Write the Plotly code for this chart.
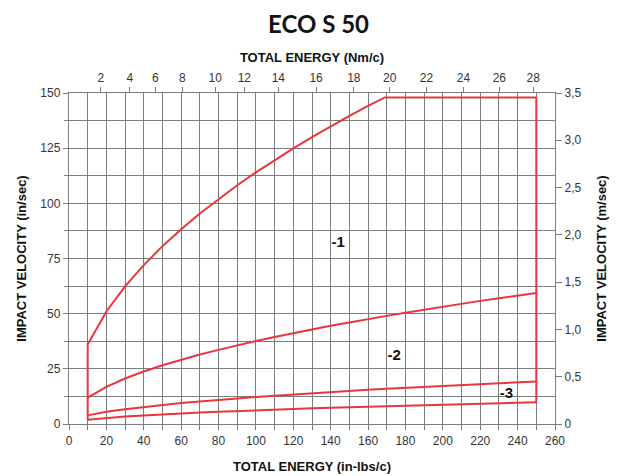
import plotly.graph_objects as go

# ---- data ----
energy_grid = [10, 20, 30, 40, 50, 60, 70, 80, 90, 100, 110, 120, 130, 140, 150, 160, 170,
               180, 190, 200, 210, 220, 230, 240, 250]

curve1_energy = [10, 20, 30, 40, 50, 60, 70, 80, 90, 100, 110, 120, 130, 140, 150, 160, 169, 250]
curve1_vel = [36, 51, 62.4, 72, 80.6, 88.3, 95.4, 102, 108.2, 114, 119.6, 124.9, 130, 134.9,
              139.6, 144.2, 148, 148]

curve2_vel = [11.9, 16.8, 20.6, 23.8, 26.6, 29.1, 31.5, 33.6, 35.7, 37.6, 39.4, 41.2, 42.9,
              44.5, 46.0, 47.6, 49.0, 50.4, 51.8, 53.2, 54.5, 55.8, 57.0, 58.2, 59.4]
curve3a_vel = [3.9, 5.5, 6.7, 7.7, 8.7, 9.5, 10.2, 11.0, 11.6, 12.2, 12.8, 13.4, 13.9, 14.5,
               15.0, 15.5, 16.0, 16.4, 16.9, 17.3, 17.7, 18.2, 18.6, 19.0, 19.3]
curve3b_vel = [1.9, 2.8, 3.4, 3.9, 4.4, 4.8, 5.2, 5.5, 5.9, 6.2, 6.5, 6.8, 7.1, 7.3, 7.6, 7.8,
               8.1, 8.3, 8.5, 8.8, 9.0, 9.2, 9.4, 9.6, 9.8]

left_edge_energy = [10, 10]
left_edge_vel = [1.9, 36]
right_edge_energy = [250, 250]
right_edge_vel = [9.8, 148]

curve_labels = ["-1", "-2", "-3"]
label_energy = [144, 174, 234]
label_vel = [82, 30.5, 13.7]

x_ticks = list(range(0, 261, 20))
y_ticks = [0, 25, 50, 75, 100, 125, 150]
nm_tick_text = ["2", "4", "6", "8", "10", "12", "14", "16", "18", "20", "22", "24", "26", "28"]
nm_tick_pos = [17.0, 32.6, 46.2, 60.7, 78.2, 93.8, 112, 132.2, 152.4, 171.6, 191.2, 211, 230.2, 248.3]
ms_tick_vals = [0, 0.5, 1.0, 1.5, 2.0, 2.5, 3.0, 3.5]
ms_tick_text = ["0", "0,5", "1,0", "1,5", "2,0", "2,5", "3,0", "3,5"]

RED = "#e8363c"
GRID = "#7c7c7c"
FONT = "Liberation Sans"

fig = go.Figure()

def red_line(x, y):
    fig.add_trace(go.Scatter(x=x, y=y, mode="lines", line=dict(color=RED, width=2),
                             hoverinfo="skip", showlegend=False))

red_line(curve1_energy, curve1_vel)
red_line(energy_grid, curve2_vel)
red_line(energy_grid, curve3a_vel)
red_line(energy_grid, curve3b_vel)
red_line(left_edge_energy, left_edge_vel)
red_line(right_edge_energy, right_edge_vel)

fig.add_trace(go.Scatter(x=label_energy, y=label_vel, mode="text", text=curve_labels,
                         textfont=dict(family=FONT, size=15, color="#111", weight="bold"),
                         showlegend=False, hoverinfo="skip"))

# invisible helpers so the secondary axes are drawn
fig.add_trace(go.Scatter(x=[0], y=[0], xaxis="x2", yaxis="y", mode="markers",
                         marker=dict(opacity=0), showlegend=False, hoverinfo="skip"))
fig.add_trace(go.Scatter(x=[0], y=[0], xaxis="x", yaxis="y2", mode="markers",
                         marker=dict(opacity=0), showlegend=False, hoverinfo="skip"))

tickfont = dict(family=FONT, size=12, color="#333")
titlefont = dict(family=FONT, size=13, color="#111", weight="bold")

# the page body adds an 8 px margin, so the figure is sized to fit the window
fig.update_layout(
    width=621, height=468,
    margin=dict(l=61, r=74, t=85, b=52, autoexpand=False),
    paper_bgcolor="white", plot_bgcolor="white",
    title=dict(text="ECO S 50", x=0.5, xanchor="center", y=0.965, yanchor="middle",
               font=dict(family="Lato", size=24, color="#111", weight="bold")),
    xaxis=dict(range=[0, 260], tickmode="array", tickvals=x_ticks, automargin=False,
               showgrid=True, gridcolor=GRID, gridwidth=1.4,
               minor=dict(dtick=10, showgrid=True, gridcolor=GRID, gridwidth=1.4,
                          ticks="outside", ticklen=5, tickcolor=GRID),
               ticks="outside", ticklen=5, tickcolor=GRID,
               showline=True, linecolor=GRID, linewidth=1.4, mirror=False,
               zeroline=False, tickfont=tickfont,
               title=dict(text="TOTAL ENERGY (in-lbs/c)", font=titlefont, standoff=15)),
    yaxis=dict(range=[0, 150], tickmode="array", tickvals=y_ticks, automargin=False,
               showgrid=True, gridcolor=GRID, gridwidth=1.4,
               minor=dict(dtick=12.5, showgrid=True, gridcolor=GRID, gridwidth=1.4,
                          ticks="outside", ticklen=4, tickcolor=GRID),
               ticks="outside", ticklen=5, tickcolor=GRID,
               showline=True, linecolor=GRID, linewidth=1.4,
               zeroline=False, tickfont=tickfont,
               title=dict(text="IMPACT VELOCITY (in/sec)", font=titlefont, standoff=10)),
    xaxis2=dict(range=[0, 260], overlaying="x", side="top", anchor="y", automargin=False,
                tickmode="array", tickvals=nm_tick_pos, ticktext=nm_tick_text,
                showgrid=False, ticks="outside", ticklen=5, tickcolor=GRID,
                showline=True, linecolor=GRID, linewidth=1.4,
                zeroline=False, tickfont=tickfont,
                title=dict(text="TOTAL ENERGY (Nm/c)", font=titlefont, standoff=5)),
    yaxis2=dict(range=[0, 3.5], overlaying="y", side="right", anchor="x", automargin=False,
                tickmode="array", tickvals=ms_tick_vals, ticktext=ms_tick_text,
                showgrid=False, ticks="outside", ticklen=6, tickcolor=GRID,
                showline=True, linecolor=GRID, linewidth=1.4,
                zeroline=False, tickfont=tickfont,
                title=dict(text="IMPACT VELOCITY (m/sec)", font=titlefont, standoff=16)),
)

fig.write_html("out.html")
